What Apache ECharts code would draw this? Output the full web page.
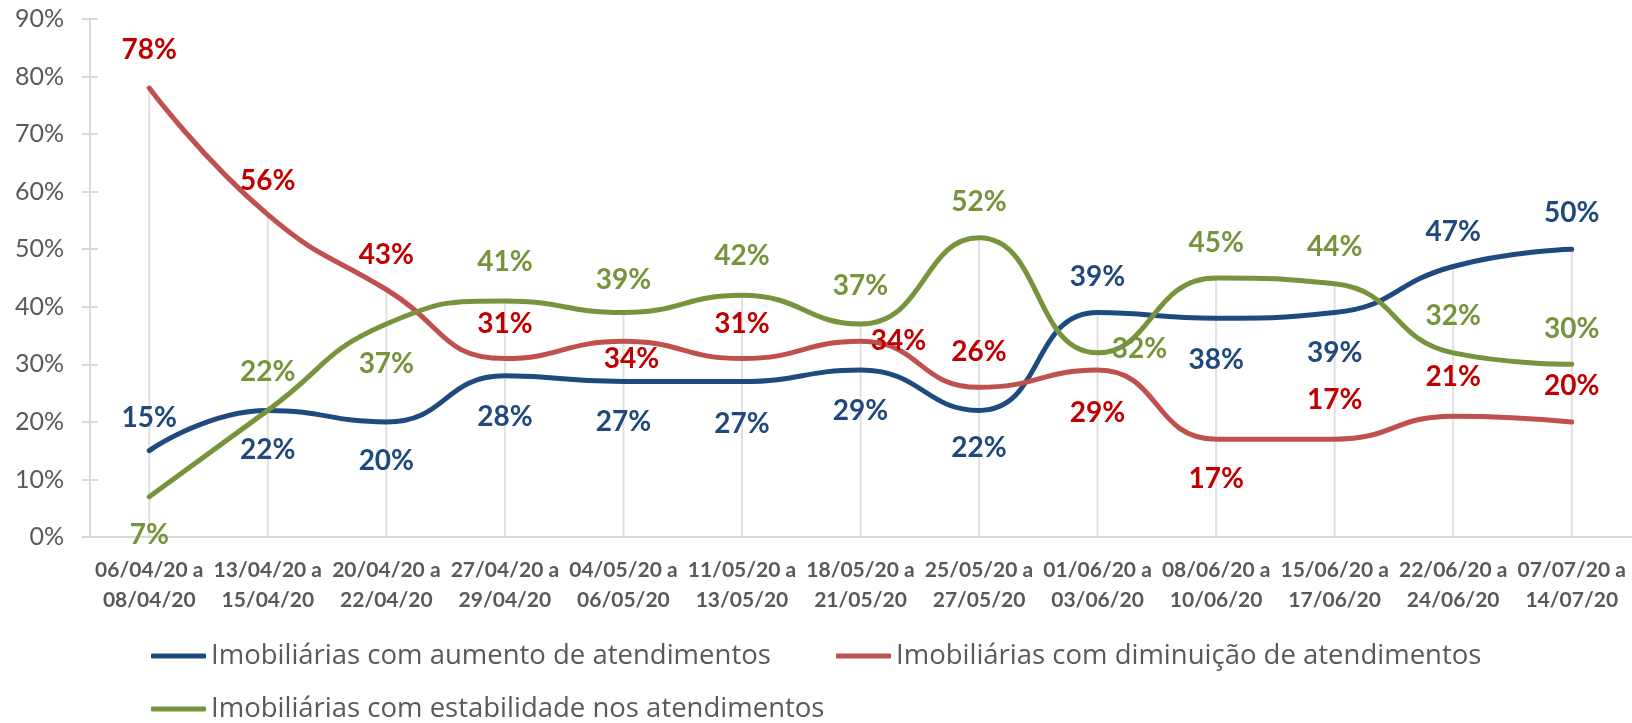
<!DOCTYPE html>
<html>
<head>
<meta charset="utf-8">
<script src="https://cdn.jsdelivr.net/npm/echarts@6/dist/echarts.min.js"></script>
<style>
  html, body { margin: 0; padding: 0; background: #fff; }
  #chart { width: 1632px; height: 723px; }
</style>
</head>
<body>
<div id="chart"></div>
<script>
const categories = [
  '06/04/20 a\n08/04/20', '13/04/20 a\n15/04/20', '20/04/20 a\n22/04/20',
  '27/04/20 a\n29/04/20', '04/05/20 a\n06/05/20', '11/05/20 a\n13/05/20',
  '18/05/20 a\n21/05/20', '25/05/20 a\n27/05/20', '01/06/20 a\n03/06/20',
  '08/06/20 a\n10/06/20', '15/06/20 a\n17/06/20', '22/06/20 a\n24/06/20',
  '07/07/20 a\n14/07/20'
]
const seriesNames = [
  'Imobiliárias com aumento de atendimentos',
  'Imobiliárias com diminuição de atendimentos',
  'Imobiliárias com estabilidade nos atendimentos'
]
const aumento = [15, 22, 20, 28, 27, 27, 29, 22, 39, 38, 39, 47, 50]
const diminuicao = [78, 56, 43, 31, 34, 31, 34, 26, 29, 17, 17, 21, 20]
const estabilidade = [7, 22, 37, 41, 39, 42, 37, 52, 32, 45, 44, 32, 30]
const yTicks = [0, 10, 20, 30, 40, 50, 60, 70, 80, 90]

// label placement (pixels from the point), kept apart from the values
const aumentoDy = [-33, 40, 39, 41, 40, 42, 41, 38, -36, 42, 40, -35, -36]
const diminuicaoDy = [-38, -34, -35, -35, 18, -35, 0, -35, 43, 40, -39, -39, -36]
const diminuicaoDx = [0, 0, 0, 0, 8, 0, 38, 0, 0, 0, 0, 0, 0]
const estabilidadeDy = [38, -38, 40, -39, -33, -39, -38, -36, -4, -35, -37, -37, -35]
const estabilidadeDx = [0, 0, 0, 0, 0, 0, 0, 0, 42, 0, 0, 0, 0]

const FONT = 'Lato, "Noto Sans", sans-serif'
const LEGEND_FONT = '"Open Sans", "Noto Sans", sans-serif'
const GRAY = '#595959'
const LIGHT = '#d9d9d9'

const dropLines = categories.map((_, i) => Math.max(aumento[i], diminuicao[i], estabilidade[i]))

const withLabels = (values, dy, dx) =>
  values.map((v, i) => ({
    value: v,
    label: { offset: [dx ? dx[i] : 0, dy[i]] }
  }))

const lineSeries = (name, values, dy, dx, lineColor, labelColor) => ({
  name,
  type: 'line',
  smooth: 0.5,
  symbol: 'circle',
  symbolSize: 2,
  showSymbol: true,
  z: 3,
  data: withLabels(values, dy, dx),
  lineStyle: { width: 5, color: lineColor, cap: 'round' },
  itemStyle: { color: lineColor },
  label: {
    show: true,
    position: 'inside',
    formatter: (p) => Math.round(p.value) + '%',
    color: labelColor,
    fontFamily: FONT,
    fontWeight: 'bold',
    fontSize: 28
  },
  emphasis: { disabled: true }
})

const legendBox = (name, left, top) => ({
  data: [name],
  left,
  top,
  padding: 0,
  icon: 'roundRect',
  itemWidth: 55,
  itemHeight: 5,
  selectedMode: false,
  textStyle: { color: GRAY, fontFamily: LEGEND_FONT, fontSize: 27.5 }
})

const chart = echarts.init(document.getElementById('chart'))

chart.setOption({
  animation: false,
  backgroundColor: '#fff',
  grid: { left: 90, right: 1, top: 19, bottom: 186 },
  legend: [
    legendBox(seriesNames[0], 151, 642),
    legendBox(seriesNames[1], 836, 642),
    legendBox(seriesNames[2], 151, 695)
  ],
  xAxis: {
    type: 'category',
    data: categories,
    boundaryGap: true,
    axisLine: { lineStyle: { color: LIGHT, width: 2 } },
    axisTick: { show: false },
    splitLine: { show: false },
    axisLabel: {
      interval: 0,
      margin: 18,
      color: GRAY,
      fontFamily: FONT,
      fontWeight: 'bold',
      fontSize: 21,
      lineHeight: 30
    }
  },
  yAxis: [
    {
      type: 'value',
      min: yTicks[0],
      max: yTicks[yTicks.length - 1],
      interval: 10,
      axisLine: { show: true, lineStyle: { color: LIGHT, width: 2 } },
      axisTick: { show: true, length: 8, lineStyle: { color: LIGHT, width: 2 } },
      splitLine: { show: false },
      axisLabel: {
        margin: 26,
        color: GRAY,
        fontFamily: FONT,
        fontSize: 25,
        formatter: (v) => v + '%'
      }
    },
    {
      type: 'value',
      position: 'left',
      min: yTicks[0],
      max: yTicks[yTicks.length - 1],
      interval: 10,
      axisLine: { show: false },
      axisTick: { show: true, inside: true, length: 8, lineStyle: { color: LIGHT, width: 2 } },
      splitLine: { show: false },
      axisLabel: { show: false }
    }
  ],
  series: [
    {
      name: 'drop',
      type: 'bar',
      data: dropLines,
      barWidth: 2,
      silent: true,
      z: 1,
      itemStyle: { color: '#e0e0e0' },
      label: { show: false }
    },
    lineSeries(seriesNames[0], aumento, aumentoDy, null, '#1F4A7E', '#1F497D'),
    lineSeries(seriesNames[1], diminuicao, diminuicaoDy, diminuicaoDx, '#C0504D', '#C00000'),
    lineSeries(seriesNames[2], estabilidade, estabilidadeDy, estabilidadeDx, '#77933C', '#77933C')
  ]
})

window.addEventListener('resize', () => chart.resize())
</script>
</body>
</html>
